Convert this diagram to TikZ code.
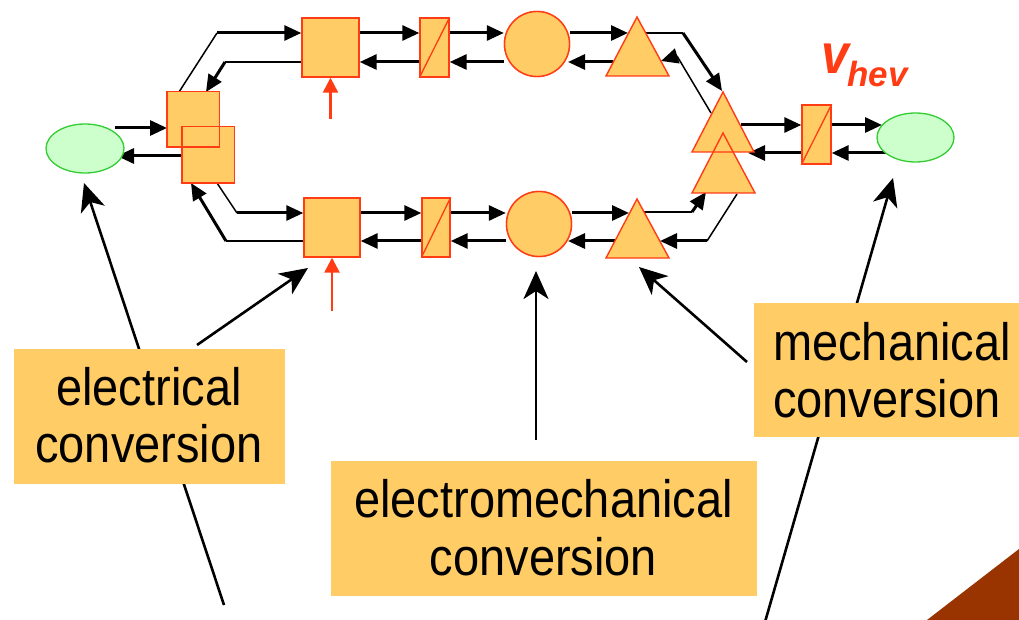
\documentclass[tikz,border=0pt]{standalone}
\usepackage{fontspec}
\setmainfont{Liberation Sans}
\usetikzlibrary{arrows.meta,calc,shapes.geometric}
\definecolor{boxfill}{HTML}{FFCC66}
\definecolor{edgered}{HTML}{FF3C14}
\definecolor{gfill}{HTML}{CCFFCC}
\definecolor{gedge}{HTML}{33CC33}
\definecolor{cornerbrown}{HTML}{993300}
\newcommand{\tallt}[1]{\scalebox{1}[1.12]{#1}}
\begin{document}
\begin{tikzpicture}[x=1pt,y=-1pt,
  conn/.style={line width=3pt,-{Triangle[length=17pt,width=15pt]}},
  thinln/.style={line width=1.5pt},
  lblarr/.style={line width=2.6pt,-{Stealth[length=28pt,width=25pt,inset=8pt]}},
  redarr/.style={draw=edgered,line width=2.5pt,-{Triangle[length=15pt,width=15pt]}},
  shapefill/.style={fill=boxfill,draw=edgered,line width=1.4pt},
  sqbox/.style={shapefill,rectangle,inner sep=0pt},
  onlyfill/.style={fill=boxfill,rectangle,inner sep=0pt},
  rdisk/.style={shapefill,circle,inner sep=0pt,minimum size=65pt},
  gell/.style={fill=gfill,draw=gedge,line width=1.3pt,ellipse},
  lblbox/.style={fill=boxfill,rectangle,inner sep=0pt},
  lbltext/.style={inner sep=0pt,font=\fontsize{47}{57}\selectfont}
]
\useasboundingbox (0,0) rectangle (1019,620);

% ---- label connectors (under boxes) ----
\coordinate (tE1) at (224,605);
\coordinate (hE1) at (84,183);
\coordinate (tE2) at (197,345);
\coordinate (hE2) at (308,268);
\coordinate (tEM) at (536,440);
\coordinate (hEM) at (536,271);
\coordinate (tM1) at (747,362);
\coordinate (hM1) at (639,267);
\coordinate (tM2) at (765,622);
\coordinate (hM2) at (893,178);
\draw[lblarr] (tE1) -- (hE1);
\draw[lblarr] (tE2) -- (hE2);
\draw[lblarr] (tEM) -- (hEM);
\draw[lblarr] (tM1) -- (hM1);
\draw[lblarr] (tM2) -- (hM2);

% ---- shapes geometry (named nodes, drawn again later on top) ----
\node[sqbox,minimum width=57pt,minimum height=59pt] (sq1) at (330.5,47.5) {};
\node[sqbox,minimum width=29pt,minimum height=59pt] (r1) at (434.5,47.5) {};
\node[rdisk] (c1) at (537,44) {};
\node[sqbox,minimum width=56pt,minimum height=59pt] (sq2) at (332,227.5) {};
\node[sqbox,minimum width=28pt,minimum height=59pt] (r2) at (436,227.5) {};
\node[rdisk] (c2) at (539,224) {};
\node[sqbox,minimum width=29pt,minimum height=59pt] (r3) at (816.5,134.5) {};

% ---- connectors ----
% top row
\draw[conn] (sq1.east|-0,33) -- (r1.west|-0,33);
\draw[conn] (r1.east|-0,33) -- (c1.west|-0,33);
\draw[conn] (c1.east|-0,33) -- (628,33);
\draw[conn] (613,62) -- (568,62);
\draw[conn] (c1.west|-0,62) -- (r1.east|-0,62);
\draw[conn] (r1.west|-0,62) -- (sq1.east|-0,62);
% bottom row
\draw[conn] (sq2.east|-0,213) -- (r2.west|-0,213);
\draw[conn] (r2.east|-0,213) -- (c2.west|-0,213);
\draw[conn] (c2.east|-0,213) -- (629,213);
\draw[conn] (615,241) -- (568,241);
\draw[conn] (c2.west|-0,241) -- (r2.east|-0,241);
\draw[conn] (r2.west|-0,241) -- (sq2.east|-0,241);
% left branches
\draw[thinln] (sq1.west|-0,62) -- (225,62);
\draw[conn] (225,62) -- (206,92);
\draw[thinln] (179,92) -- (217,33);
\draw[conn] (217,33) -- (sq1.west|-0,33);
\draw[thinln] (217,183) -- (237,213);
\draw[conn] (237,213) -- (sq2.west|-0,213);
\draw[thinln] (sq2.west|-0,241) -- (226,241);
\draw[conn] (226,241) -- (191,183);
% left ellipse
\draw[conn] (115,128) -- (167,128);
\draw[conn] (182,156) -- (117,156);
% right branches
\draw[thinln] (645,33) -- (683,33);
\draw[conn] (683,33) -- (722,91);
\draw[thinln] (711,113) -- (677,56);
\draw[conn] (677,56) -- (661,61);
\draw[thinln] (644,212) -- (692,212);
\draw[conn] (692,212) -- (706,192);
\draw[thinln] (737,194) -- (707,241);
\draw[conn] (707,241) -- (660,241);
\draw[conn] (741,125) -- (r3.west|-0,125);
\draw[conn] (r3.east|-0,125) -- (882,125);
\draw[conn] (886,153) -- (r3.east|-0,153);
\draw[conn] (r3.west|-0,153) -- (748,153);

% red input arrows
\draw[redarr] ([yshift=-41pt]sq1.south) -- (sq1.south);
\draw[redarr] ([yshift=-53pt]sq2.south) -- (sq2.south);

% ---- shapes on top ----
\node[sqbox,minimum width=57pt,minimum height=59pt] at (sq1) {};
\node[sqbox,minimum width=29pt,minimum height=59pt] at (r1) {};
\draw[edgered,line width=1.3pt] (r1.south west) -- (r1.north east);
\node[rdisk] at (c1) {};
\node[sqbox,minimum width=56pt,minimum height=59pt] at (sq2) {};
\node[sqbox,minimum width=28pt,minimum height=59pt] at (r2) {};
\draw[edgered,line width=1.3pt] (r2.south west) -- (r2.north east);
\node[rdisk] at (c2) {};
\node[sqbox,minimum width=29pt,minimum height=59pt] at (r3) {};
\draw[edgered,line width=1.3pt] (r3.south west) -- (r3.north east);

% triangles
\coordinate (t1a) at (637,17); \coordinate (t1l) at (606,76); \coordinate (t1r) at (669,76);
\draw[shapefill] (t1a) -- (t1l) -- (t1r) -- cycle;
\coordinate (t2a) at (637,199); \coordinate (t2l) at (606,258); \coordinate (t2r) at (669,258);
\draw[shapefill] (t2a) -- (t2l) -- (t2r) -- cycle;
\coordinate (tR1a) at (723,92); \coordinate (tR1l) at (692,152); \coordinate (tR1r) at (754,152);
\coordinate (tR2a) at (723,133); \coordinate (tR2l) at (692,193); \coordinate (tR2r) at (755,193);
\fill[boxfill] (tR1a) -- (tR1l) -- (tR1r) -- cycle;
\fill[boxfill] (tR2a) -- (tR2l) -- (tR2r) -- cycle;
\draw[edgered,line width=1.4pt,line join=miter] (tR1a) -- (tR1l) -- (tR1r) -- cycle;
\draw[edgered,line width=1.4pt,line join=miter] (tR2a) -- (tR2l) -- (tR2r) -- cycle;

% overlapping squares on the left
\node[onlyfill,minimum width=52pt,minimum height=55pt] (sqA) at (193,119.5) {};
\node[onlyfill,minimum width=52pt,minimum height=56pt] (sqB) at (208,155) {};
\draw[edgered,line width=1.4pt] (sqA.south west) rectangle (sqA.north east);
\draw[edgered,line width=1.4pt] (sqB.south west) rectangle (sqB.north east);

% ellipses
\node[gell,minimum width=78pt,minimum height=49pt,inner sep=0pt] (eL) at (85,148.5) {};
\node[gell,minimum width=77pt,minimum height=49pt,inner sep=0pt] (eR) at (915.5,137.5) {};

% v_hev label
\node[anchor=base west,inner sep=0pt,text=edgered,font=\fontsize{50}{60}\selectfont\bfseries\itshape] (vlab) at (821,74) {\tallt{v}};
\node[anchor=base west,inner sep=0pt,text=edgered,font=\fontsize{35}{42}\selectfont\bfseries\itshape] (hevlab) at (847,87) {hev};

% ---- label boxes ----
\node[lblbox,minimum width=271pt,minimum height=135pt] (boxE) at (149.5,416.5) {};
\node[lbltext,anchor=base] (txE1) at (149,405) {\tallt{electrical}};
\node[lbltext,anchor=base] (txE2) at (149,462) {\tallt{conversion}};

\node[lblbox,minimum width=426pt,minimum height=135pt] (boxEM) at (544,528.5) {};
\node[lbltext,anchor=base] (txEM1) at (543.5,517) {\tallt{electromechanical}};
\node[lbltext,anchor=base] (txEM2) at (543.5,575) {\tallt{conversion}};

\begin{scope}
\clip (0,0) rectangle (1019,620);
\node[lblbox,minimum width=281pt,minimum height=134pt] (boxM) at (894.5,370) {};
\end{scope}
\node[lbltext,anchor=base west] (txM1) at (773,360) {\tallt{mechanical}};
\node[lbltext,anchor=base west] (txM2) at (773,417) {\tallt{conversion}};

% corner decoration
\fill[cornerbrown] (927,620) -- (1019,549) -- (1019,620) -- cycle;
\end{tikzpicture}
\end{document}
